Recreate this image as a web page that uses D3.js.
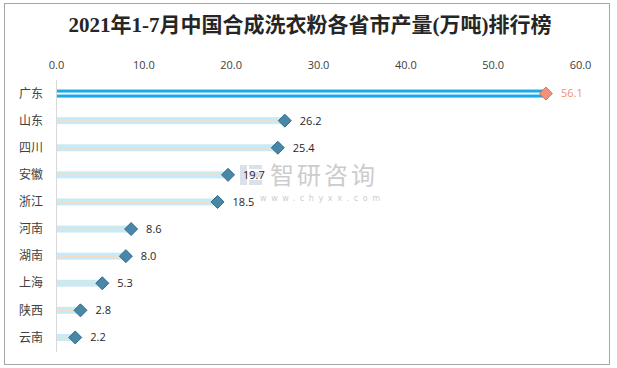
<!DOCTYPE html>
<html><head><meta charset="utf-8">
<script src="https://cdn.jsdelivr.net/npm/d3@7"></script>
<style>body{margin:0;background:#fff;}svg{display:block;}</style>
</head><body>
<script>
const title = "2021年1-7月中国合成洗衣粉各省市产量(万吨)排行榜";
const categories = ["广东","山东","四川","安徽","浙江","河南","湖南","上海","陕西","云南"];
const values = [56.1,26.2,25.4,19.7,18.5,8.6,8.0,5.3,2.8,2.2];
const tickValues = [0,10,20,30,40,50,60];

const W=617,H=368;
const svg=d3.select("body").append("svg").attr("width",W).attr("height",H);
svg.append("rect").attr("x",4.5).attr("y",3.5).attr("width",605).attr("height",361)
  .attr("fill","#fff").attr("stroke","#a6a6a6");

svg.append("text").attr("x",310).attr("y",32).attr("text-anchor","middle")
  .attr("font-family","'Liberation Serif','Noto Sans CJK SC'").attr("font-weight","bold")
  .attr("font-size",21).attr("fill","#262626").text(title);

const x=d3.scaleLinear().domain([0,60]).range([56,580]);
const y=d3.scaleBand().domain(categories).range([80,351]).paddingInner(0).paddingOuter(0);

const axis=d3.axisTop(x).tickValues(tickValues).tickFormat(d3.format(".1f")).tickSize(0).tickPadding(0);
const ag=svg.append("g").attr("transform","translate(0,69)").call(axis);
ag.select(".domain").remove();
ag.selectAll("text").attr("font-family","'Open Sans','Liberation Sans',sans-serif").attr("font-size",11).attr("fill","#404040");

// watermark
const wm=svg.append("g").attr("opacity",0.5);
wm.append("rect").attr("x",240).attr("y",165).attr("width",7).attr("height",20).attr("fill","#b8c4d8");
wm.append("rect").attr("x",249).attr("y",165).attr("width",13).attr("height",4).attr("fill","#b8c4d8");
wm.append("rect").attr("x",249).attr("y",172).attr("width",13).attr("height",5).attr("fill","#b8c4d8");
wm.append("rect").attr("x",249).attr("y",180).attr("width",13).attr("height",5).attr("fill","#b8c4d8");
wm.append("text").attr("x",270).attr("y",184).attr("font-family","'Noto Sans CJK SC'").attr("font-size",24)
  .attr("fill","#9a9a9a").attr("letter-spacing",3).text("智研咨询");
wm.append("text").attr("x",260).attr("y",201).attr("font-family","'DejaVu Sans',sans-serif").attr("font-size",8)
  .attr("fill","#9a9a9a").attr("letter-spacing",4.6).text("www.chyxx.com");

// vertical axis line
svg.append("line").attr("x1",56.5).attr("x2",56.5).attr("y1",80).attr("y2",352).attr("stroke","#d9d9d9");

const rows=svg.append("g").selectAll("g").data(categories).join("g")
  .attr("transform",d=>`translate(0,${y(d)+y.bandwidth()/2})`);

rows.append("text").attr("x",43).attr("y",0).attr("dy","0.35em").attr("text-anchor","end")
  .attr("font-family","'Noto Sans CJK SC'").attr("font-size",12).attr("fill","#404040").text(d=>d);

rows.each(function(d,i){
  const g=d3.select(this), v=values[i], first=i===0;
  if(first){
    g.append("rect").attr("x",57).attr("y",-4).attr("width",x(v)-57).attr("height",8).attr("fill","#17a9e8");
    g.append("rect").attr("x",57).attr("y",-1).attr("width",x(v)-57).attr("height",2).attr("fill","#ffffff");
  } else {
    g.append("rect").attr("x",57).attr("y",-3.5).attr("width",x(v)-57).attr("height",7).attr("fill","#c6ebf8");
    g.append("rect").attr("x",57).attr("y",-0.5).attr("width",x(v)-57).attr("height",1.5).attr("fill","#f6dcc2");
  }
  const s=6.5;
  g.append("path").attr("d",`M${x(v)},${-s}L${x(v)+s},0L${x(v)},${s}L${x(v)-s},0Z`)
    .attr("fill",first?"#ef9478":"#4a87a7").attr("stroke",first?"#d07a62":"#2e6e8e").attr("stroke-width",1);
  g.append("text").attr("x",x(v)+15).attr("y",0).attr("dy","0.35em")
    .attr("font-family","'Open Sans','Liberation Sans',sans-serif").attr("font-size",11)
    .attr("fill",first?"#f28f74":"#262626").text(d3.format(".1f")(v));
});
</script>
</body></html>
